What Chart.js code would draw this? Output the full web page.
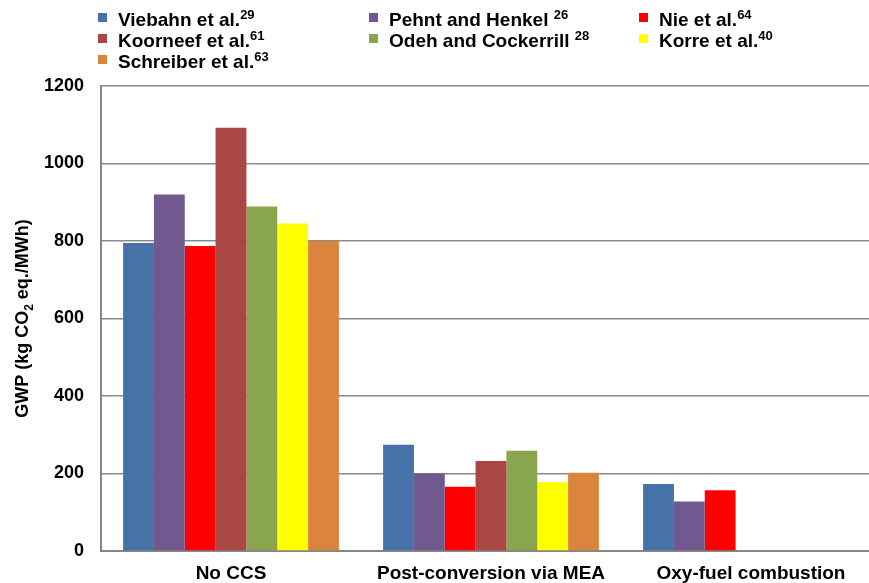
<!DOCTYPE html>
<html lang="en">
<head>
  <meta charset="UTF-8">
  <title>GWP of coal power with and without CCS</title>
  <script src="https://cdn.jsdelivr.net/npm/chart.js"></script>
  <style>
    html, body {
      margin: 0;
      padding: 0;
      background: #fff;
      overflow: hidden;
    }
    .chart-box {
      position: relative;
      width: 881px;
      height: 583px;
    }
  </style>
</head>
<body>
  <div class="chart-box">
    <canvas id="gwpChart" width="881" height="583"></canvas>
  </div>

  <script>
    // categories on the x axis
    const categories = ['No CCS', 'Post-conversion via MEA', 'Oxy-fuel combustion'];

    // studies (legend order = bar order)
    const studies = ['Viebahn et al.', 'Pehnt and Henkel ', 'Nie et al.', 'Koorneef et al.',
                     'Odeh and Cockerrill ', 'Korre et al.', 'Schreiber et al.'];
    const refs = ['29', '26', '64', '61', '28', '40', '63'];
    const studyColors = ['#4572A7', '#71588F', '#FF0000', '#AA4643', '#89A54E', '#FFFF00', '#DB843D'];

    // GWP values (kg CO2 eq./MWh), one array per study: [No CCS, MEA, Oxy-fuel]
    const viebahn   = [795, 274, 173];
    const pehnt     = [920, 200, 128];
    const nie       = [787, 166, 157];
    const koorneef  = [1092, 232, null];
    const odeh      = [889, 259, null];
    const korre     = [845, 178, null];
    const schreiber = [800, 202, null];

    const yTicks = [0, 200, 400, 600, 800, 1000, 1200];

    const seriesValues = [viebahn, pehnt, nie, koorneef, odeh, korre, schreiber];
    const FONT = "'Liberation Sans', Arial, Helvetica, sans-serif";

    // legend drawn as a 3-column grid with superscript refs
    const gridLegend = {
      id: 'gridLegend',
      afterDraw(chart) {
        const c = chart.ctx;
        const colX = [98, 369, 639];
        const rowY = [26, 47, 68];
        c.save();
        c.textBaseline = 'alphabetic';
        studies.forEach((name, i) => {
          const x = colX[i % 3];
          const y = rowY[Math.floor(i / 3)];
          c.fillStyle = studyColors[i];
          c.fillRect(x, y - 13, 9, 9);
          c.fillStyle = '#000';
          c.font = 'bold 19px ' + FONT;
          c.fillText(name, x + 20, y);
          const w = c.measureText(name).width;
          c.font = 'bold 13px ' + FONT;
          c.fillText(refs[i], x + 20 + w, y - 7);
        });
        c.restore();
      }
    };

    // rotated y title with subscript 2
    const yTitle = {
      id: 'yTitle',
      afterDraw(chart) {
        const c = chart.ctx;
        const area = chart.chartArea;
        const parts = [
          { t: 'GWP (kg CO', size: 18, dy: 0 },
          { t: '2', size: 12, dy: 5 },
          { t: ' eq./MWh)', size: 18, dy: 0 }
        ];
        c.save();
        let total = 0;
        parts.forEach(p => {
          c.font = 'bold ' + p.size + 'px ' + FONT;
          p.w = c.measureText(p.t).width;
          total += p.w;
        });
        c.translate(28, (area.top + area.bottom) / 2);
        c.rotate(-Math.PI / 2);
        c.fillStyle = '#000';
        c.textBaseline = 'alphabetic';
        let x = -total / 2;
        parts.forEach(p => {
          c.font = 'bold ' + p.size + 'px ' + FONT;
          c.fillText(p.t, x, p.dy);
          x += p.w;
        });
        c.restore();
      }
    };

    const ctx = document.getElementById('gwpChart').getContext('2d');

    new Chart(ctx, {
      type: 'bar',
      data: {
        labels: categories,
        datasets: studies.map((name, i) => ({
          label: name + refs[i],
          data: seriesValues[i],
          backgroundColor: studyColors[i],
          borderWidth: 0
        }))
      },
      options: {
        responsive: false,
        animation: false,
        layout: { padding: { top: 86, right: 0, left: 0, bottom: 0 } },
        datasets: {
          bar: { categoryPercentage: 0.83, barPercentage: 1.0 }
        },
        plugins: {
          legend: { display: false },
          tooltip: { enabled: false }
        },
        scales: {
          x: {
            grid: { display: false, drawTicks: false },
            border: { display: true, color: '#868686', width: 2 },
            ticks: {
              color: '#000',
              padding: 11,
              maxRotation: 0,
              font: { family: FONT, size: 19, weight: 'bold' }
            },
            afterFit(scale) { scale.height = 32; }
          },
          y: {
            min: 0,
            max: 1200,
            afterBuildTicks(scale) {
              scale.ticks = yTicks.map(v => ({ value: v }));
            },
            grid: { color: '#8a8a8a', lineWidth: 1.5, drawTicks: false },
            border: { display: true, color: '#868686', width: 2 },
            ticks: {
              color: '#000',
              padding: 17,
              font: { family: FONT, size: 18, weight: 'bold' },
              callback: v => String(v)
            },
            afterFit(scale) { scale.width = 101; }
          }
        }
      },
      plugins: [gridLegend, yTitle]
    });
  </script>
</body>
</html>
